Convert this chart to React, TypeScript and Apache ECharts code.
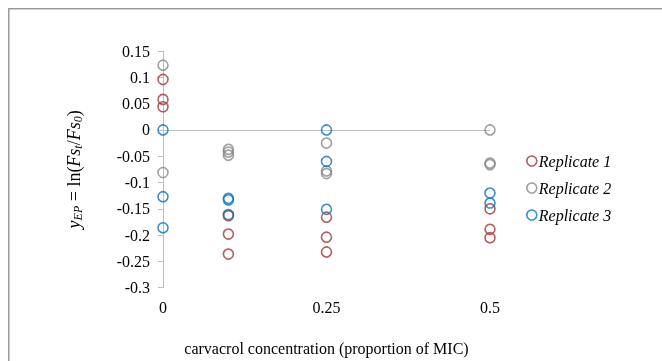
import React, { useEffect, useRef } from "react";
import * as echarts from "echarts";

const concentrations = [0, 0.1, 0.25, 0.5];
const xTickLabels = ["0", "0.25", "0.5"];
const seriesNames = ["Replicate 1", "Replicate 2", "Replicate 3"];
const replicate1 = [
  [0.096, 0.058, 0.044],
  [-0.163, -0.198, -0.236],
  [-0.166, -0.204, -0.232],
  [-0.15, -0.189, -0.205],
];
const replicate2 = [
  [0.123, -0.081],
  [-0.037, -0.042, -0.048],
  [-0.025, -0.078, -0.083],
  [0, -0.063, -0.066],
];
const replicate3 = [
  [0, -0.127, -0.186],
  [-0.13, -0.133, -0.161],
  [0, -0.06, -0.151],
  [-0.12, -0.139],
];
const colors = ["#A0383A", "#878787", "#0A72C4"];

const FONT = "Liberation Serif";

function toPoints(groups: number[][]) {
  const pts: number[][] = [];
  groups.forEach((vals, i) => vals.forEach((v) => pts.push([concentrations[i], v])));
  return pts;
}

export default function App() {
  const ref = useRef<HTMLDivElement>(null);
  useEffect(() => {
    if (!ref.current) return;
    const chart = echarts.init(ref.current, undefined, { renderer: "svg" });
    const all = [replicate1, replicate2, replicate3];
    const series: any[] = all.map((g, i) => ({
      name: seriesNames[i],
      type: "scatter",
      symbol: "circle",
      symbolSize: 10,
      data: toPoints(g),
      itemStyle: { color: "rgba(0,0,0,0)", borderColor: colors[i], borderWidth: 1.6 },
      z: 3 + i,
    }));
    series[0].markLine = {
      silent: true,
      symbol: "none",
      label: { show: false },
      lineStyle: { color: "#BFBFBF", width: 1, type: "solid" },
      data: [{ yAxis: 0 }],
      z: 1,
    };
    chart.setOption({
      animation: false,
      textStyle: { fontFamily: FONT },
      graphic: [
        {
          type: "rect",
          shape: { x: 8.75, y: 8.75, width: 900, height: 900 },
          style: { fill: "none", stroke: "#9a9a9a", lineWidth: 1.5 },
          silent: true,
        },
      ],
      grid: { left: 163, right: 172, top: 51, bottom: 73.3, outerBoundsMode: "none", containLabel: false },
      legend: {
        orient: "vertical",
        left: 521,
        top: 148,
        itemWidth: 10,
        itemHeight: 10,
        itemGap: 11,
        icon: "circle",
        textStyle: { fontFamily: FONT, fontSize: 16, fontStyle: "italic", color: "#000", padding: [0, 0, 0, -3] },
        data: seriesNames.map((n, i) => ({
          name: n,
          itemStyle: { color: "rgba(0,0,0,0)", borderColor: colors[i], borderWidth: 1.6 },
        })),
      },
      xAxis: {
        type: "value",
        min: 0,
        max: 0.5,
        interval: 0.25,
        axisLine: { show: false },
        axisTick: { show: false },
        splitLine: { show: false },
        axisLabel: {
          margin: 12,
          fontFamily: FONT,
          fontSize: 16,
          color: "#000",
          formatter: (v: number) => xTickLabels[Math.round(v / 0.25)] ?? "",
        },
        name: "carvacrol concentration (proportion of MIC)",
        nameLocation: "middle",
        nameGap: 53,
        nameTextStyle: { fontFamily: FONT, fontSize: 16, color: "#000" },
      },
      yAxis: {
        type: "value",
        min: -0.3,
        max: 0.15,
        interval: 0.05,
        axisLine: { show: true, onZero: false, lineStyle: { color: "#BFBFBF", width: 1 } },
        axisTick: { show: true, length: 5, lineStyle: { color: "#BFBFBF" } },
        splitLine: { show: false },
        axisLabel: { margin: 13, fontFamily: FONT, fontSize: 16, color: "#000" },
        name: "{i|y}{s|EP}{n| = ln(}{i|Fs}{s|t}{n|/}{i|Fs}{s|0}{n|)}",
        nameLocation: "middle",
        nameRotate: 90,
        nameGap: 79,
        nameTextStyle: {
          fontFamily: FONT,
          color: "#000",
          rich: {
            i: { fontFamily: FONT, fontSize: 18, fontStyle: "italic", color: "#000", lineHeight: 21, verticalAlign: "middle" },
            n: { fontFamily: FONT, fontSize: 18, color: "#000", lineHeight: 21, verticalAlign: "middle" },
            s: { fontFamily: FONT, fontSize: 12, fontStyle: "italic", color: "#000", lineHeight: 12, verticalAlign: "bottom" },
          },
        },
      },
      series,
    });
    return () => chart.dispose();
  }, []);
  return (
    <div
      ref={ref}
      style={{ position: "fixed", left: 0, top: 0, width: 662, height: 361, overflow: "hidden" }}
    />
  );
}
